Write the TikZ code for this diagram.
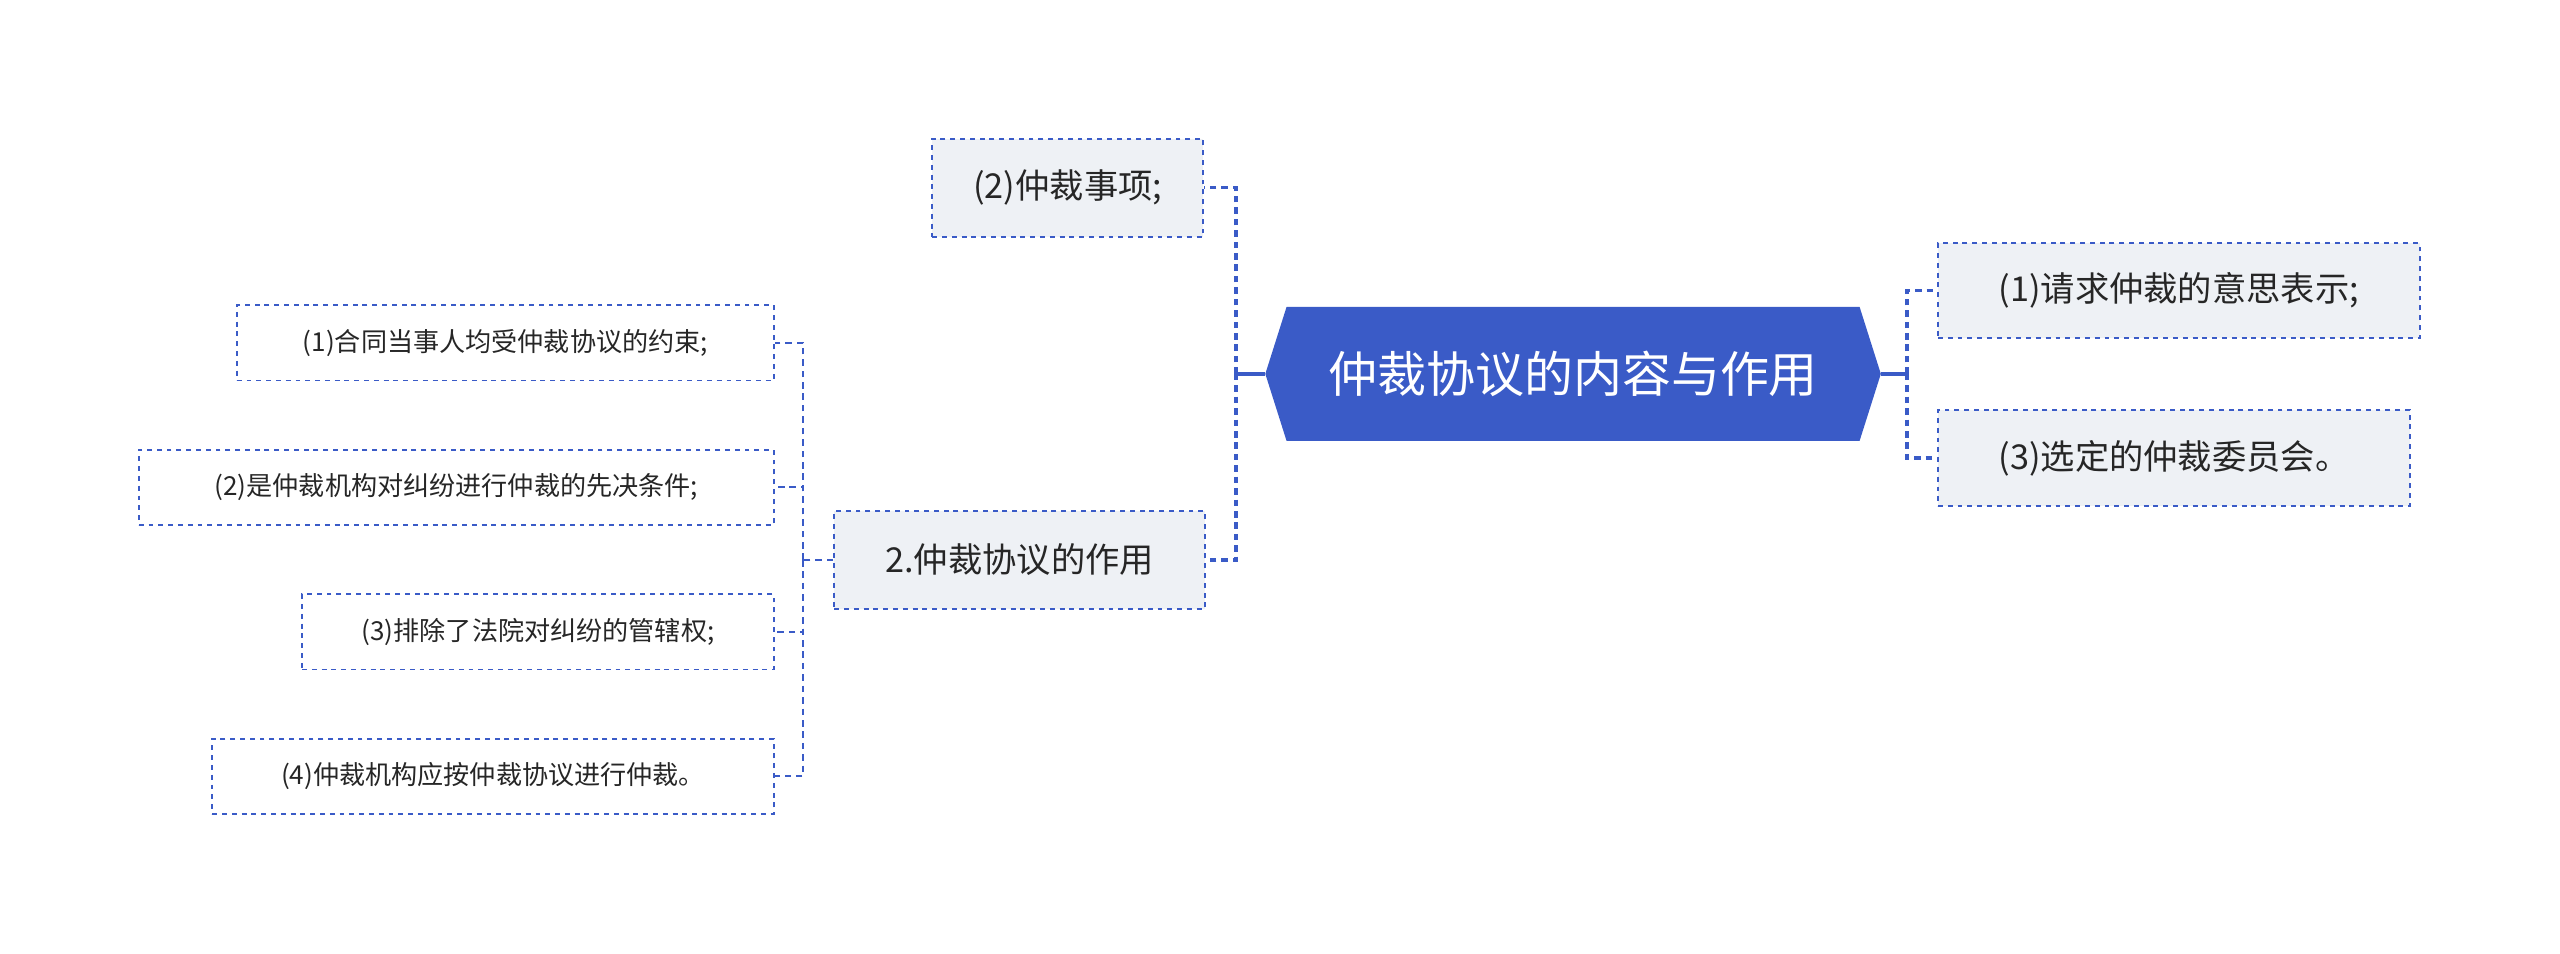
\documentclass[tikz,border=0pt]{standalone}
\usepackage{fontspec}
\setmainfont{Noto Sans CJK SC}
\usetikzlibrary{shapes.geometric}
\definecolor{bl}{HTML}{3A5BC7}
\definecolor{lg}{HTML}{EEF1F5}
\begin{document}
\begin{tikzpicture}[x=1pt,y=-1pt,
 sub/.style={draw=bl,dashed,line width=1.2pt,fill=lg,minimum height=60pt,font=\fontsize{21}{24}\selectfont,text=black!85,inner sep=0pt},
 leaf/.style={draw=bl,dashed,line width=1.1pt,minimum height=46pt,font=\fontsize{16}{19}\selectfont,text=black!85,inner sep=0pt},
 con/.style={bl,line width=2pt,dashed,dash pattern=on 4pt off 3pt}]
\useasboundingbox (0,0) rectangle (1568,584);
\fill[bl] (775,229) -- (788,188) -- (1139,188) -- (1152,229) -- (1139,270) -- (788,270) -- cycle;
\node[text=white,font=\fontsize{30}{34}\selectfont] (c) at (963.5,229) {仲裁协议的内容与作用};
\coordinate (cl) at (775,229); \coordinate (cr) at (1152,229);
\node[sub,minimum width=166pt] (a) at (654,115) {(2)仲裁事项;};
\node[sub,minimum width=227pt] (b) at (624.5,343) {2.仲裁协议的作用};
\node[sub,minimum width=295pt,minimum height=58pt] (r1) at (1334.5,178) {(1)请求仲裁的意思表示;};
\node[sub,minimum width=289pt,minimum height=59pt] (r2) at (1331.5,280.5) {(3)选定的仲裁委员会。};
\node[leaf,minimum width=329pt] (l1) at (309.5,210) {(1)合同当事人均受仲裁协议的约束;};
\node[leaf,minimum width=389pt] (l2) at (279.5,298.5) {(2)是仲裁机构对纠纷进行仲裁的先决条件;};
\node[leaf,minimum width=289pt] (l3) at (329.5,387) {(3)排除了法院对纠纷的管辖权;};
\node[leaf,minimum width=344pt] (l4) at (302,475.5) {(4)仲裁机构应按仲裁协议进行仲裁。};
\draw[bl,line width=2pt] (cl) -- (757,229);
\draw[bl,line width=2pt] (cr) -- (1168,229);
\draw[con] (757,229) |- (a.east);
\draw[con] (757,229) |- (b.east);
\draw[con] (1168,229) |- (r1.west);
\draw[con] (1168,229) |- (r2.west);
\draw[con,line width=1.3pt] (b.west) -- (492,343);
\foreach \n in {l1,l2,l3,l4} \draw[con,line width=1.3pt] (492,343) |- (\n.east);
\end{tikzpicture}
\end{document}
